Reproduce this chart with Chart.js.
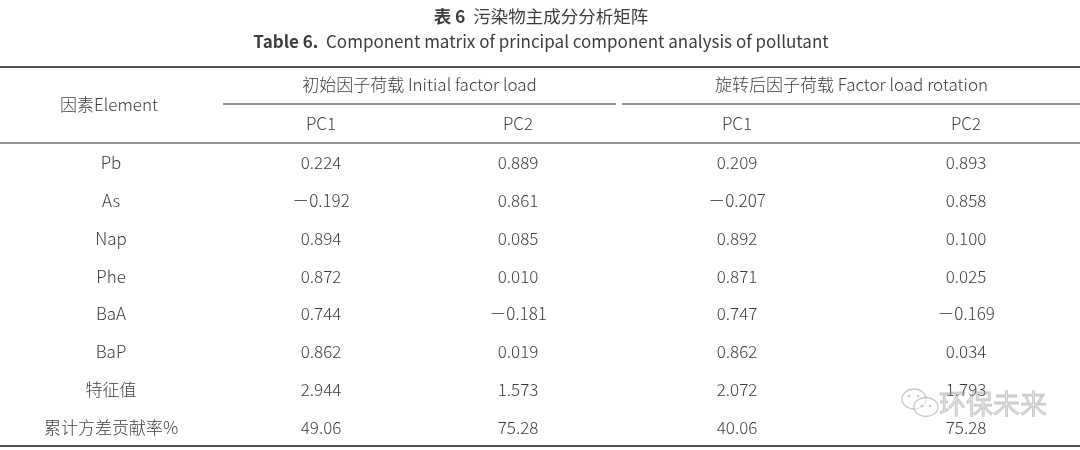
<!DOCTYPE html>
<html>
<head>
<meta charset="utf-8">
<script src="https://cdn.jsdelivr.net/npm/chart.js@4.4.1/dist/chart.umd.min.js"></script>
<style>
  html, body { margin: 0; padding: 0; background: #fff; }
  #wrap { width: 1080px; height: 450px; position: relative; }
</style>
</head>
<body>
<div id="wrap"><canvas id="tableChart"></canvas></div>
<script>
// table content
const titleCn = ["表 6", "污染物主成分分析矩阵"];
const titleEn = ["Table 6.", "Component matrix of principal component analysis of pollutant"];
const elementHeader = "因素Element";
const groupHeaders = ["初始因子荷载 Initial factor load", "旋转后因子荷载 Factor load rotation"];
const componentLabels = ["PC1", "PC2", "PC1", "PC2"];
const rowLabels = ["Pb", "As", "Nap", "Phe", "BaA", "BaP", "特征值", "累计方差贡献率%"];
const rowDecimals = [3, 3, 3, 3, 3, 3, 3, 2];

const initialPC1 = [0.224, -0.192, 0.894, 0.872, 0.744, 0.862, 2.944, 49.06];
const initialPC2 = [0.889, 0.861, 0.085, 0.010, -0.181, 0.019, 1.573, 75.28];
const rotatedPC1 = [0.209, -0.207, 0.892, 0.871, 0.747, 0.862, 2.072, 40.06];
const rotatedPC2 = [0.893, 0.858, 0.100, 0.025, -0.169, 0.034, 1.793, 75.28];

// layout (pixels on the x scale)
const colCenters = [111, 321, 518, 737, 966];
const FONT = '"Noto Sans CJK SC", "Noto Sans", sans-serif';
const TEXT = "#3d3d3d";
const BODY = "300 17px " + FONT;

function fmt(v, d) {
    const s = Math.abs(v).toFixed(d);
    return v < 0 ? "\uFF0D" + s : s;
}

const valueColumns = [initialPC1, initialPC2, rotatedPC1, rotatedPC2];

const datasets = valueColumns.map((col, j) => ({
    label: componentLabels[j],
    data: col.map((v, i) => ({ x: colCenters[j + 1], y: rowLabels[i], v: v, d: rowDecimals[i] })),
    pointRadius: 0,
    showLine: false
}));

function drawRun(ctx, parts, cx, y) {
    let widths = parts.map(p => { ctx.font = p[1] + " " + p[2] + "px " + FONT; return ctx.measureText(p[0]).width; });
    let total = widths.reduce((a, b) => a + b, 0);
    let x = cx - total / 2;
    ctx.textAlign = "left";
    parts.forEach((p, i) => {
        ctx.font = p[1] + " " + p[2] + "px " + FONT;
        ctx.fillText(p[0], x, y);
        x += widths[i];
    });
}

function hline(ctx, x1, x2, y, w, color) {
    ctx.beginPath();
    ctx.lineWidth = w;
    ctx.strokeStyle = color;
    ctx.moveTo(x1, y);
    ctx.lineTo(x2, y);
    ctx.stroke();
}

const tablePlugin = {
    id: "tablePlugin",
    afterDraw(chart) {
        const ctx = chart.ctx;
        const xs = chart.scales.x;
        const ys = chart.scales.y;
        const area = chart.chartArea;
        ctx.save();
        ctx.fillStyle = TEXT;
        ctx.textBaseline = "middle";

        // titles
        drawRun(ctx, [[titleCn[0] + "  ", "bold", 17.5], [titleCn[1], "normal", 17.5]], 541, 16);
        drawRun(ctx, [[titleEn[0] + "  ", "bold", 17], [titleEn[1], "normal", 17]], 541, 42);

        // rules
        hline(ctx, 0, 1080, 67, 2, "#505050");
        hline(ctx, 223, 616, 104, 1.5, "#6e6e6e");
        hline(ctx, 622, 1080, 104, 1.5, "#6e6e6e");
        hline(ctx, 0, 1080, area.top - 1, 1.5, "#6e6e6e");
        hline(ctx, 0, 1080, area.bottom, 2, "#505050");

        // header
        ctx.textAlign = "center";
        ctx.font = BODY;
        ctx.fillText(elementHeader, xs.getPixelForValue(colCenters[0]) - 2, 105);
        ctx.fillText(groupHeaders[0], (xs.getPixelForValue(colCenters[1]) + xs.getPixelForValue(colCenters[2])) / 2, 85);
        ctx.fillText(groupHeaders[1], (xs.getPixelForValue(colCenters[3]) + xs.getPixelForValue(colCenters[4])) / 2, 85);
        componentLabels.forEach((lab, j) => {
            ctx.fillText(lab, xs.getPixelForValue(colCenters[j + 1]), 124);
        });

        // element labels
        rowLabels.forEach((lab, i) => {
            ctx.fillText(lab, xs.getPixelForValue(colCenters[0]), ys.getPixelForValue(i));
        });

        // cells
        chart.data.datasets.forEach((ds, j) => {
            const meta = chart.getDatasetMeta(j);
            meta.data.forEach((pt, i) => {
                const raw = ds.data[i];
                ctx.fillText(fmt(raw.v, raw.d), pt.x, pt.y);
            });
        });

        // watermark
        ctx.globalAlpha = 0.55;
        ctx.strokeStyle = "#9a9a9a";
        ctx.lineWidth = 1.3;
        ctx.beginPath();
        ctx.ellipse(914, 399, 12, 10, 0, 0, Math.PI * 2);
        ctx.stroke();
        ctx.beginPath();
        ctx.ellipse(926, 407, 12, 9.5, 0, 0, Math.PI * 2);
        ctx.fillStyle = "#fff";
        ctx.fill();
        ctx.stroke();
        ctx.fillStyle = "#9a9a9a";
        [[909, 396], [918, 396], [922, 406], [930, 406]].forEach(p => {
            ctx.beginPath();
            ctx.arc(p[0], p[1], 1.3, 0, Math.PI * 2);
            ctx.fill();
        });
        ctx.font = "normal 27px " + FONT;
        ctx.textAlign = "left";
        ctx.fillStyle = "rgba(170,170,170,0.6)";
        ctx.fillText("环保未来", 939, 404);
        ctx.lineWidth = 0.8;
        ctx.strokeText("环保未来", 939, 404);
        ctx.restore();
    }
};

new Chart(document.getElementById("tableChart"), {
    type: "scatter",
    data: { labels: rowLabels, datasets: datasets },
    options: {
        responsive: true,
        maintainAspectRatio: false,
        animation: false,
        events: [],
        layout: { padding: { top: 144, bottom: 4, left: 0, right: 0 } },
        plugins: { legend: { display: false }, tooltip: { enabled: false }, title: { display: false } },
        scales: {
            x: { type: "linear", min: 0, max: 1080, display: false },
            y: { type: "category", labels: rowLabels, offset: true, display: false }
        }
    },
    plugins: [tablePlugin]
});
</script>
</body>
</html>
